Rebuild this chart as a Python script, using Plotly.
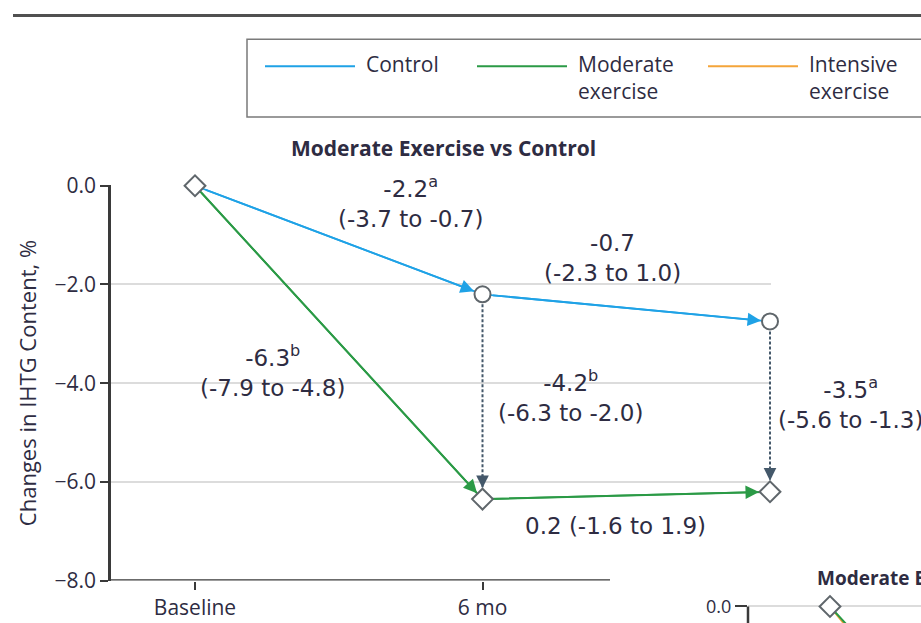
import plotly.graph_objects as go

# ---- data -------------------------------------------------------------
timepoints = ["Baseline", "6 mo", "12 mo"]
control = [0.0, -2.2, -2.75]
moderate = [0.0, -6.35, -6.2]
intensive = [0.0, -7.2, -6.9]
y_ticks = [0.0, -2.0, -4.0, -6.0, -8.0]

control_symbols = ["diamond", "circle", "circle"]
moderate_symbols = ["diamond", "diamond", "diamond"]

# change estimates (95% CI) printed next to the segments
within_control = ["-2.2<sup>a</sup><br>(-3.7 to -0.7)", "-0.7<br>(-2.3 to 1.0)"]
within_moderate = ["-6.3<sup>b</sup><br>(-7.9 to -4.8)", "0.2 (-1.6 to 1.9)"]
between_groups = ["-4.2<sup>b</sup><br>(-6.3 to -2.0)", "-3.5<sup>a</sup><br>(-5.6 to -1.3)"]

legend_names = ["Control", "Moderate<br>exercise", "Intensive<br>exercise"]

# ---- style ------------------------------------------------------------
W = 921
FIG_H = 636
GRID_Y0, GRID_SY = 12.7, 0.9605   # vertical calibration of the canvas grid
BLUE = "#1fa2e6"
GREEN = "#2b9a46"
ORANGE = "#f4a53a"
MARK = "#5f666b"
DASH = "#44586a"
AXIS = "#3a3a3a"
GRID = "#dcdcdc"
TEXT = "#2e2c42"
SANS = "Open Sans"
NUM = "DejaVu Sans"


def px(p):
    """canvas x (pixels) -> paper x"""
    return p / W


def py(p):
    """canvas y (pixels from top) -> paper y"""
    return 1 - ((p - GRID_Y0) / GRID_SY) / FIG_H


xpos = list(range(len(timepoints)))
fig = go.Figure()

# main panel: lines
fig.add_trace(go.Scatter(x=xpos, y=control, mode="lines",
                         line=dict(color=BLUE, width=1.8), cliponaxis=False,
                         hoverinfo="skip", showlegend=False))
fig.add_trace(go.Scatter(x=xpos, y=moderate, mode="lines",
                         line=dict(color=GREEN, width=2), cliponaxis=False,
                         hoverinfo="skip", showlegend=False))

# dashed connectors between groups at each follow-up
for i in xpos[1:]:
    fig.add_trace(go.Scatter(x=[i, i], y=[control[i], moderate[i]], mode="lines",
                             line=dict(color=DASH, width=2, dash="3px,2px"),
                             cliponaxis=False, hoverinfo="skip", showlegend=False))

# markers
fig.add_trace(go.Scatter(x=xpos, y=control, mode="markers", name="Control",
                         marker=dict(symbol=control_symbols, size=16, color="white",
                                     line=dict(color=MARK, width=2)),
                         cliponaxis=False, showlegend=False))
fig.add_trace(go.Scatter(x=xpos[1:], y=moderate[1:], mode="markers", name="Moderate exercise",
                         marker=dict(symbol=moderate_symbols[1:], size=16, color="white",
                                     line=dict(color=MARK, width=2)),
                         cliponaxis=False, showlegend=False))

# second panel (moderate vs intensive), only its top edge is in view
fig.add_trace(go.Scatter(x=xpos, y=intensive, mode="lines", name="Intensive exercise",
                         line=dict(color=ORANGE, width=2), xaxis="x2", yaxis="y2",
                         cliponaxis=True, showlegend=False))
fig.add_trace(go.Scatter(x=xpos, y=moderate, mode="lines", name="Moderate exercise",
                         line=dict(color=GREEN, width=2), xaxis="x2", yaxis="y2",
                         cliponaxis=True, showlegend=False))
fig.add_trace(go.Scatter(x=xpos[:1], y=moderate[:1], mode="markers",
                         marker=dict(symbol="diamond", size=16, color="white",
                                     line=dict(color=MARK, width=2)),
                         xaxis="x2", yaxis="y2", cliponaxis=False, showlegend=False))

annotations = []


def seg_arrow(series, i, color, start_off, end_off):
    annotations.append(dict(
        x=xpos[i + 1], y=series[i + 1], ax=xpos[i], ay=series[i],
        xref="x", yref="y", axref="x", ayref="y", text="", showarrow=True,
        arrowhead=2, arrowsize=1.5, arrowwidth=1.8, arrowcolor=color,
        standoff=end_off, startstandoff=start_off))


seg_arrow(control, 0, BLUE, 10, 9)
seg_arrow(control, 1, BLUE, 9, 9)
seg_arrow(moderate, 0, GREEN, 8, 8)
seg_arrow(moderate, 1, GREEN, 11, 11)

# heads of the dashed connectors
for i in xpos[1:]:
    annotations.append(dict(x=xpos[i], y=moderate[i], xref="x", yref="y",
                            ax=0, ay=-26, text="", showarrow=True, arrowhead=2,
                            arrowsize=1.4, arrowwidth=1.8, arrowcolor=DASH, standoff=11))

num_font = dict(family=NUM, size=23, color=TEXT)


def label(text, xc, yc, xanchor="center"):
    annotations.append(dict(x=px(xc), y=py(yc), xref="paper", yref="paper", text=text,
                            showarrow=False, xanchor=xanchor, yanchor="middle",
                            font=num_font, align="center"))


label(within_control[0], 410, 201)
label(within_control[1], 612, 257)
label(within_moderate[0], 272, 371)
label(between_groups[0], 570, 396)
label(between_groups[1], 850, 403)
label(within_moderate[1], 615, 526)

# titles
annotations.append(dict(x=px(443), y=py(147), xref="paper", yref="paper",
                        text="<b>Moderate Exercise vs Control</b>", showarrow=False,
                        xanchor="center", yanchor="middle",
                        font=dict(family=SANS, size=21, color=TEXT)))
annotations.append(dict(x=px(815), y=py(578), xref="paper", yref="paper",
                        text="<b>Moderate Exercise vs Intensive Exercise</b>", showarrow=False,
                        xanchor="left", yanchor="middle",
                        font=dict(family=SANS, size=19, color=TEXT)))
annotations.append(dict(x=px(27), y=py(383), xref="paper", yref="paper",
                        text="Changes in IHTG Content, %", textangle=-90, showarrow=False,
                        xanchor="center", yanchor="middle",
                        font=dict(family=SANS, size=22, color=TEXT)))

# frame rule, legend box and hand-placed axis lines
shapes = [
    dict(type="line", xref="paper", yref="paper", x0=px(13), x1=1.01, y0=1 - 1.6 / FIG_H,
         y1=1 - 1.6 / FIG_H, line=dict(color="#505050", width=3)),
    dict(type="rect", xref="paper", yref="paper", x0=px(247), x1=px(935), y0=py(116), y1=py(38),
         line=dict(color="#7a7a7a", width=1.5), fillcolor="white", layer="below"),
    dict(type="line", xref="paper", yref="y", x0=px(111), x1=px(610), y0=y_ticks[-1], y1=y_ticks[-1],
         line=dict(color=AXIS, width=2.5)),
    dict(type="line", xref="x2 domain", yref="y2", x0=0, x1=0, y0=0, y1=-1,
         line=dict(color=AXIS, width=2.5)),
]
legend_colors = [BLUE, GREEN, ORANGE]
legend_x = [265, 477, 708]
for name, color, x0 in zip(legend_names, legend_colors, legend_x):
    shapes.append(dict(type="line", xref="paper", yref="paper", x0=px(x0), x1=px(x0 + 90),
                       y0=py(65), y1=py(65), line=dict(color=color, width=2)))
    annotations.append(dict(x=px(x0 + 99), y=py(47), xref="paper", yref="paper", text=name,
                            showarrow=False, xanchor="left", yanchor="top", align="left",
                            font=dict(family=SANS, size=21, color=TEXT)))

tick_font = dict(family=SANS, size=21, color=TEXT)
scale_x = 287.5
y2_px_per_unit = 49.5 / GRID_SY
y2_zero = (607 - GRID_Y0) / GRID_SY          # figure pixel of the second panel's 0.0
y2_top = (600 - GRID_Y0) / GRID_SY
fig.update_layout(
    width=W, height=FIG_H, margin=dict(l=0, r=0, t=0, b=0),
    paper_bgcolor="white", plot_bgcolor="rgba(0,0,0,0)",
    showlegend=False, annotations=annotations, shapes=shapes,
    xaxis=dict(domain=[px(111), px(771)], range=[-(195 - 111) / scale_x, 2 + 1 / scale_x],
               tickvals=xpos[:2], ticktext=timepoints[:2], ticks="outside", ticklen=8,
               tickwidth=2, tickcolor=AXIS, showgrid=False, zeroline=False, showline=False,
               tickfont=tick_font, fixedrange=True),
    yaxis=dict(domain=[py(581), py(184)], range=[-8, 0.02], tickvals=y_ticks,
               tickformat=".1f", ticks="outside", ticklen=8, tickwidth=2, tickcolor=AXIS,
               showline=True, linecolor=AXIS, linewidth=2.5, showgrid=True, gridcolor=GRID,
               gridwidth=1.5, zeroline=False, tickfont=tick_font, fixedrange=True),
    xaxis2=dict(domain=[px(748), 1], range=[-(830 - 748) / 288, (921 - 830) / 288],
                anchor="y2", showticklabels=False, ticks="", showgrid=False,
                zeroline=False, showline=False, fixedrange=True),
    yaxis2=dict(domain=[0, 1 - y2_top / FIG_H],
                range=[-(FIG_H - y2_zero) / y2_px_per_unit, (y2_zero - y2_top) / y2_px_per_unit],
                anchor="x2", tickvals=[0.0], tickformat=".1f", ticks="outside", ticklen=12,
                tickwidth=2, tickcolor=AXIS, showline=False, showgrid=True, gridcolor=GRID,
                gridwidth=1.5, zeroline=False, tickfont=dict(family=SANS, size=18, color=TEXT),
                fixedrange=True),
)

fig.write_html("out.html")
